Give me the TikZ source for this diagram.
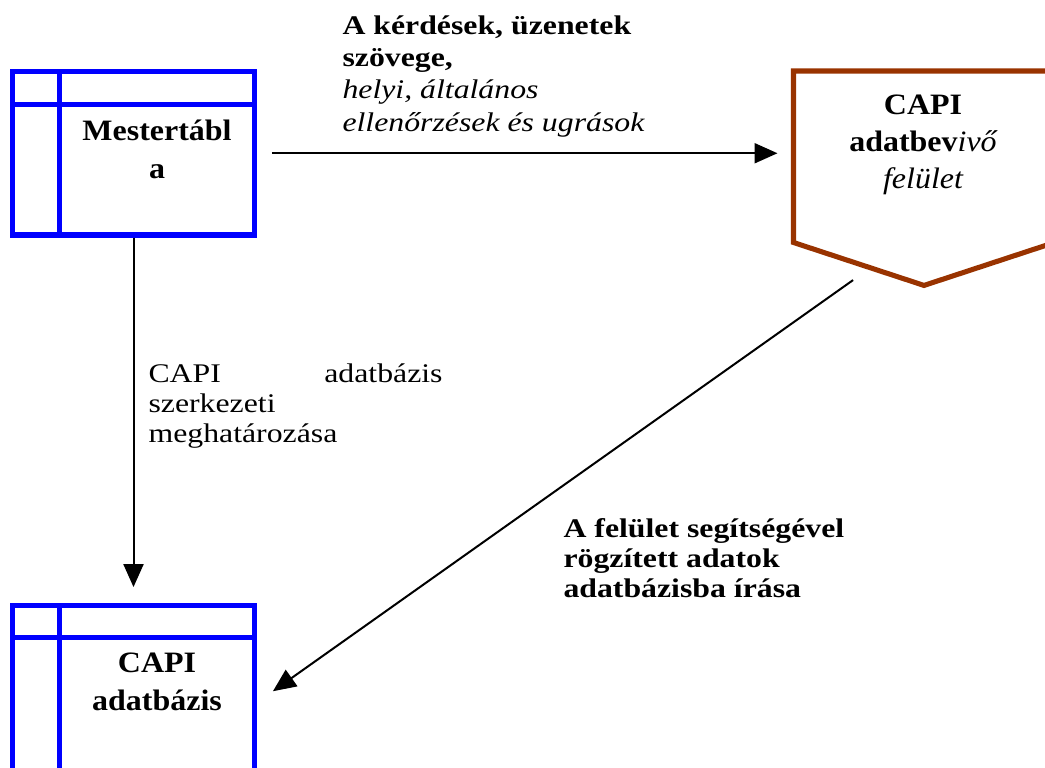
\documentclass[tikz,border=0pt]{standalone}
\usepackage{fontspec}
\setmainfont{Liberation Serif}
\newfontfamily\notefont{Liberation Serif}[FakeStretch=1.18]
\newfontfamily\boxfont{Liberation Serif}[FakeStretch=1.08]
\usetikzlibrary{arrows.meta, positioning, calc}
\definecolor{tablecolor}{HTML}{0000FF}
\definecolor{formcolor}{HTML}{993300}

\begin{document}
\begin{tikzpicture}[
    x=0.375pt, y=-0.375pt,
    tablebox/.style={rectangle, draw=tablecolor, line width=1.9pt, fill=white,
                     minimum width=90.75pt, minimum height=#1, inner sep=0pt,
                     path picture={
                       \draw[tablecolor, line width=1.9pt]
                         ([yshift=-12.2pt]path picture bounding box.north west) -- ([yshift=-12.2pt]path picture bounding box.north east)
                         ([xshift=17.6pt]path picture bounding box.north west) -- ([xshift=17.6pt]path picture bounding box.south west);
                     }},
    % base anchor sits on the last line (first line once text width is set)
    boxtext/.style={anchor=base, inner sep=0pt, align=center,
                    font=\boxfont\fontsize{11.1pt}{13.9pt}\selectfont\bfseries},
    note/.style={anchor=base west, inner sep=0pt, align=left,
                 font=\notefont\fontsize{10.1pt}{11.25pt}\selectfont},
    arrow/.style={-{Triangle[length=8.6pt, width=7.5pt]}, line width=0.75pt}
]
    \useasboundingbox (0,0) rectangle (1045,767);

    % tables
    \node[tablebox=61.3pt] (mester) at (133.5,153.25) {};
    \node[boxtext, font=\boxfont\fontsize{11.1pt}{14.3pt}\selectfont\bfseries] (mesterText) at (157,178.3) {Mestertábl\\a};
    \node[tablebox=73.1pt] (capidb) at (133.5,702.5) {};
    \node[boxtext] (capidbText) at (157,710) {CAPI\\adatbázis};

    % input form
    \node[minimum width=97.5pt, minimum height=63.9pt, inner sep=0pt] (felulet) at (924,156.75) {};
    \draw[formcolor, line width=1.9pt] (felulet.north west) -- (felulet.north east) -- (felulet.south east)
        -- ([yshift=-16.1pt]felulet.south) -- (felulet.south west) -- cycle;
    \node[boxtext] (feluletText) at (923,188.5)
        {CAPI\\adatbev{\mdseries\itshape ivő}\\{\mdseries\itshape felület}};

    % labels
    \node[note, font=\notefont\fontsize{10.1pt}{12.1pt}\selectfont] (kerdesek) at (342,131)
        {\textbf{A kérdések, üzenetek}\\\textbf{szövege,}\\\textit{helyi, általános}\\\textit{ellenőrzések és ugrások}};
    \node[note, text width=110.25pt] (szerkezet) at (148,382) {CAPI\hfill adatbázis\\szerkezeti\\meghatározása};
    \node[note, font=\notefont\fontsize{10.1pt}{11.25pt}\selectfont\bfseries] (rogzites) at (563,597)
        {A felület segítségével\\rögzített adatok\\adatbázisba írása};

    % arrows
    \coordinate (feluletOut) at ([xshift=-26.6pt, yshift=-14.1pt]felulet.south);
    \draw[arrow, shorten <=5.6pt, shorten >=6pt] (mester.east) -- (mester.east -| felulet.west);
    \draw[arrow, shorten >=5.8pt] (mester) -- (capidb);
    \draw[arrow, shorten >=7.3pt] (feluletOut) -- (capidb.east);
\end{tikzpicture}
\end{document}
